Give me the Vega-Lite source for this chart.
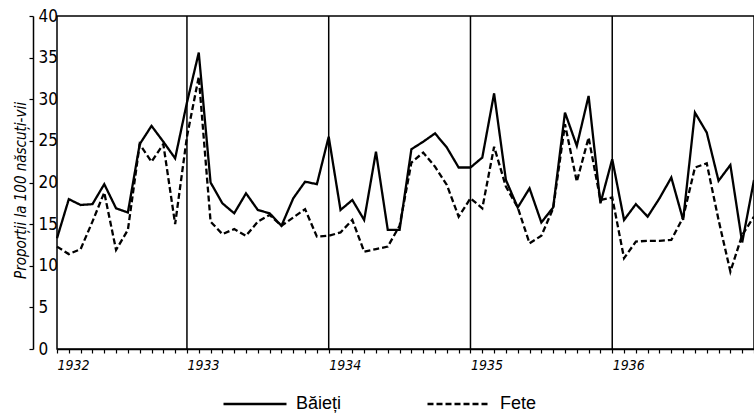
{
  "$schema": "https://vega.github.io/schema/vega-lite/v6.json",
  "width": 697,
  "height": 333,
  "autosize": {"type": "none"},
  "padding": {"left": 57, "top": 16, "right": 0, "bottom": 67},
  "background": "white",
  "config": {"view": {"stroke": "black", "strokeWidth": 1.5}},
  "datasets": {
    "years": [{"t": 12}, {"t": 24}, {"t": 36}, {"t": 48}],
    "series": [
      {"t": 1, "s": "Băieți", "v": 13.3}, {"t": 2, "s": "Băieți", "v": 18.0}, {"t": 3, "s": "Băieți", "v": 17.3}, {"t": 4, "s": "Băieți", "v": 17.4},
      {"t": 5, "s": "Băieți", "v": 19.8}, {"t": 6, "s": "Băieți", "v": 16.9}, {"t": 7, "s": "Băieți", "v": 16.4}, {"t": 8, "s": "Băieți", "v": 24.6},
      {"t": 9, "s": "Băieți", "v": 26.8}, {"t": 10, "s": "Băieți", "v": 24.9}, {"t": 11, "s": "Băieți", "v": 22.9}, {"t": 12, "s": "Băieți", "v": 29.6},
      {"t": 13, "s": "Băieți", "v": 35.6}, {"t": 14, "s": "Băieți", "v": 20.0}, {"t": 15, "s": "Băieți", "v": 17.5}, {"t": 16, "s": "Băieți", "v": 16.3},
      {"t": 17, "s": "Băieți", "v": 18.7}, {"t": 18, "s": "Băieți", "v": 16.7}, {"t": 19, "s": "Băieți", "v": 16.3}, {"t": 20, "s": "Băieți", "v": 14.8},
      {"t": 21, "s": "Băieți", "v": 18.1}, {"t": 22, "s": "Băieți", "v": 20.1}, {"t": 23, "s": "Băieți", "v": 19.8}, {"t": 24, "s": "Băieți", "v": 25.5},
      {"t": 25, "s": "Băieți", "v": 16.7}, {"t": 26, "s": "Băieți", "v": 17.9}, {"t": 27, "s": "Băieți", "v": 15.5}, {"t": 28, "s": "Băieți", "v": 23.7},
      {"t": 29, "s": "Băieți", "v": 14.3}, {"t": 30, "s": "Băieți", "v": 14.3}, {"t": 31, "s": "Băieți", "v": 24.0}, {"t": 32, "s": "Băieți", "v": 24.9},
      {"t": 33, "s": "Băieți", "v": 25.9}, {"t": 34, "s": "Băieți", "v": 24.2}, {"t": 35, "s": "Băieți", "v": 21.8}, {"t": 36, "s": "Băieți", "v": 21.8},
      {"t": 37, "s": "Băieți", "v": 23.0}, {"t": 38, "s": "Băieți", "v": 30.7}, {"t": 39, "s": "Băieți", "v": 20.3}, {"t": 40, "s": "Băieți", "v": 17.0},
      {"t": 41, "s": "Băieți", "v": 19.3}, {"t": 42, "s": "Băieți", "v": 15.2}, {"t": 43, "s": "Băieți", "v": 17.0}, {"t": 44, "s": "Băieți", "v": 28.4},
      {"t": 45, "s": "Băieți", "v": 24.4}, {"t": 46, "s": "Băieți", "v": 30.4}, {"t": 47, "s": "Băieți", "v": 17.5}, {"t": 48, "s": "Băieți", "v": 22.8},
      {"t": 49, "s": "Băieți", "v": 15.5}, {"t": 50, "s": "Băieți", "v": 17.4}, {"t": 51, "s": "Băieți", "v": 15.9}, {"t": 52, "s": "Băieți", "v": 18.1},
      {"t": 53, "s": "Băieți", "v": 20.6}, {"t": 54, "s": "Băieți", "v": 15.5}, {"t": 55, "s": "Băieți", "v": 28.4}, {"t": 56, "s": "Băieți", "v": 26.0},
      {"t": 57, "s": "Băieți", "v": 20.2}, {"t": 58, "s": "Băieți", "v": 22.1}, {"t": 59, "s": "Băieți", "v": 12.8}, {"t": 60, "s": "Băieți", "v": 20.3},
      {"t": 1, "s": "Fete", "v": 12.3}, {"t": 2, "s": "Fete", "v": 11.4}, {"t": 3, "s": "Fete", "v": 12.0}, {"t": 4, "s": "Fete", "v": 15.3},
      {"t": 5, "s": "Fete", "v": 18.8}, {"t": 6, "s": "Fete", "v": 11.9}, {"t": 7, "s": "Fete", "v": 14.3}, {"t": 8, "s": "Fete", "v": 24.6},
      {"t": 9, "s": "Fete", "v": 22.5}, {"t": 10, "s": "Fete", "v": 24.6}, {"t": 11, "s": "Fete", "v": 15.0}, {"t": 12, "s": "Fete", "v": 25.5},
      {"t": 13, "s": "Fete", "v": 32.7}, {"t": 14, "s": "Fete", "v": 15.3}, {"t": 15, "s": "Fete", "v": 13.8}, {"t": 16, "s": "Fete", "v": 14.4},
      {"t": 17, "s": "Fete", "v": 13.6}, {"t": 18, "s": "Fete", "v": 15.3}, {"t": 19, "s": "Fete", "v": 16.1}, {"t": 20, "s": "Fete", "v": 14.8},
      {"t": 21, "s": "Fete", "v": 15.8}, {"t": 22, "s": "Fete", "v": 16.8}, {"t": 23, "s": "Fete", "v": 13.5}, {"t": 24, "s": "Fete", "v": 13.6},
      {"t": 25, "s": "Fete", "v": 14.0}, {"t": 26, "s": "Fete", "v": 15.5}, {"t": 27, "s": "Fete", "v": 11.7}, {"t": 28, "s": "Fete", "v": 12.0},
      {"t": 29, "s": "Fete", "v": 12.3}, {"t": 30, "s": "Fete", "v": 14.8}, {"t": 31, "s": "Fete", "v": 22.4}, {"t": 32, "s": "Fete", "v": 23.6},
      {"t": 33, "s": "Fete", "v": 21.9}, {"t": 34, "s": "Fete", "v": 19.7}, {"t": 35, "s": "Fete", "v": 15.9}, {"t": 36, "s": "Fete", "v": 18.1},
      {"t": 37, "s": "Fete", "v": 16.9}, {"t": 38, "s": "Fete", "v": 24.3}, {"t": 39, "s": "Fete", "v": 19.5}, {"t": 40, "s": "Fete", "v": 17.0},
      {"t": 41, "s": "Fete", "v": 12.7}, {"t": 42, "s": "Fete", "v": 13.6}, {"t": 43, "s": "Fete", "v": 16.9}, {"t": 44, "s": "Fete", "v": 27.0},
      {"t": 45, "s": "Fete", "v": 20.1}, {"t": 46, "s": "Fete", "v": 25.4}, {"t": 47, "s": "Fete", "v": 17.9}, {"t": 48, "s": "Fete", "v": 18.2},
      {"t": 49, "s": "Fete", "v": 10.9}, {"t": 50, "s": "Fete", "v": 12.9}, {"t": 51, "s": "Fete", "v": 13.0}, {"t": 52, "s": "Fete", "v": 13.0},
      {"t": 53, "s": "Fete", "v": 13.1}, {"t": 54, "s": "Fete", "v": 15.8}, {"t": 55, "s": "Fete", "v": 21.8}, {"t": 56, "s": "Fete", "v": 22.3},
      {"t": 57, "s": "Fete", "v": 15.5}, {"t": 58, "s": "Fete", "v": 9.3}, {"t": 59, "s": "Fete", "v": 13.7}, {"t": 60, "s": "Fete", "v": 15.9}
    ]
  },
  "layer": [
    {
      "data": {"name": "series"},
      "mark": {"type": "line", "color": "black", "strokeWidth": 2.3},
      "encoding": {
        "x": {
          "field": "t", "type": "quantitative",
          "scale": {"domain": [1, 60], "nice": false, "zero": false},
          "axis": {
            "title": null, "grid": false,
            "values": [1,2,3,4,5,6,7,8,9,10,11,12,13,14,15,16,17,18,19,20,21,22,23,24,25,26,27,28,29,30,31,32,33,34,35,36,37,38,39,40,41,42,43,44,45,46,47,48,49,50,51,52,53,54,55,56,57,58,59,60],
            "labelExpr": "datum.value == 1 ? '1932' : datum.value == 12 ? '1933' : datum.value == 24 ? '1934' : datum.value == 36 ? '1935' : datum.value == 48 ? '1936' : ''",
            "labelAlign": "left", "labelDx": 2, "labelPadding": 5,
            "labelOverlap": false, "labelFlush": false, "labelBound": false,
            "labelFont": "'Liberation Sans Narrow', 'DejaVu Sans Condensed', sans-serif", "labelFontStyle": "italic", "labelFontSize": 14, "labelColor": "black",
            "domainColor": "black", "domainWidth": 1.5, "tickColor": "black", "tickSize": 4, "tickWidth": 1.2
          }
        },
        "y": {
          "field": "v", "type": "quantitative",
          "scale": {"domain": [0, 40], "nice": false},
          "axis": {
            "title": "Proporții la 100 născuți-vii",
            "values": [0, 5, 10, 15, 20, 25, 30, 35, 40],
            "grid": false, "offset": 24,
            "labelAlign": "left", "labelPadding": -9, "labelFlush": false, "labelOverlap": false, "labelBound": false,
            "labelFont": "'Liberation Sans Narrow', 'DejaVu Sans Condensed', sans-serif", "labelFontSize": 17, "labelColor": "black",
            "domainColor": "black", "domainWidth": 1.5, "tickColor": "black", "tickSize": 4, "tickWidth": 1.2,
            "titleFont": "'Liberation Sans Narrow', 'DejaVu Sans Condensed', sans-serif", "titleFontStyle": "italic", "titleFontWeight": "normal", "titleFontSize": 15, "titleColor": "black",
            "titleAngle": -90, "titleX": -13, "titleY": 174, "titleAlign": "center", "titleBaseline": "middle"
          }
        },
        "strokeDash": {
          "field": "s", "type": "nominal",
          "scale": {"domain": ["Băieți", "Fete"], "range": [[1, 0], [6, 3]]},
          "legend": {
            "orient": "none", "legendX": 165, "legendY": 355, "direction": "horizontal", "title": null,
            "symbolType": "stroke", "symbolSize": 3969, "symbolStrokeWidth": 2.3, "symbolStrokeColor": "black",
            "labelFont": "Liberation Sans", "labelFontSize": 18, "labelColor": "black", "labelOffset": 8,
            "columnPadding": 80
          }
        }
      }
    },
    {
      "data": {"name": "years"},
      "mark": {"type": "rule", "color": "black", "strokeWidth": 1.5},
      "encoding": {
        "x": {
          "field": "t", "type": "quantitative",
          "scale": {"domain": [1, 60], "nice": false, "zero": false},
          "axis": {
            "title": null, "grid": false,
            "values": [1,2,3,4,5,6,7,8,9,10,11,12,13,14,15,16,17,18,19,20,21,22,23,24,25,26,27,28,29,30,31,32,33,34,35,36,37,38,39,40,41,42,43,44,45,46,47,48,49,50,51,52,53,54,55,56,57,58,59,60],
            "labelExpr": "datum.value == 1 ? '1932' : datum.value == 12 ? '1933' : datum.value == 24 ? '1934' : datum.value == 36 ? '1935' : datum.value == 48 ? '1936' : ''",
            "labelAlign": "left", "labelDx": 2, "labelPadding": 5,
            "labelOverlap": false, "labelFlush": false, "labelBound": false,
            "labelFont": "'Liberation Sans Narrow', 'DejaVu Sans Condensed', sans-serif", "labelFontStyle": "italic", "labelFontSize": 14, "labelColor": "black",
            "domainColor": "black", "domainWidth": 1.5, "tickColor": "black", "tickSize": 4, "tickWidth": 1.2
          }
        }
      }
    }
  ]
}
